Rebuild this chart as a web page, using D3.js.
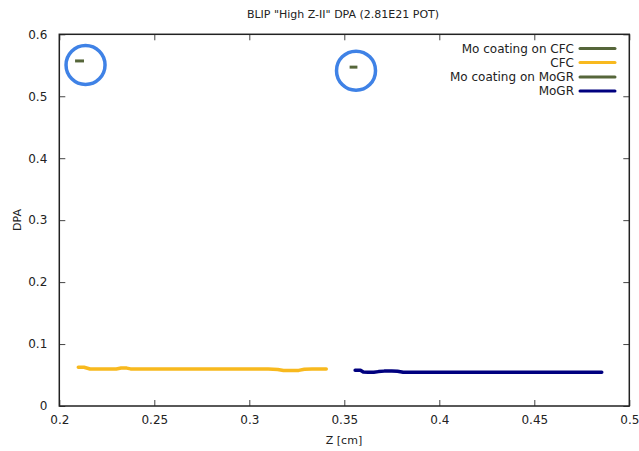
<!DOCTYPE html>
<html>
<head>
<meta charset="utf-8">
<script src="https://cdn.jsdelivr.net/npm/d3@7"></script>
<style>
  html, body { margin: 0; padding: 0; background: #fff; }
  svg { display: block; }
  text { font-family: "DejaVu Sans", sans-serif; fill: #222; }
</style>
</head>
<body>
<svg id="chart" width="639" height="451"></svg>
<script>
// Dose (DPA) along Z for each absorber material
const cfcZ   = [0.210, 0.213, 0.2162, 0.220, 0.225, 0.230, 0.2325, 0.2355, 0.2375, 0.240, 0.245, 0.250, 0.255, 0.260, 0.265, 0.270, 0.275, 0.280, 0.285, 0.290, 0.295, 0.300, 0.305, 0.310, 0.315, 0.318, 0.322, 0.326, 0.329, 0.333, 0.337, 0.3405];
const cfcDPA = [0.0625, 0.0625, 0.0598, 0.0597, 0.0597, 0.0598, 0.0612, 0.0612, 0.0599, 0.0597, 0.0597, 0.0597, 0.0597, 0.0597, 0.0597, 0.0597, 0.0597, 0.0597, 0.0597, 0.0597, 0.0597, 0.0597, 0.0597, 0.0597, 0.0590, 0.0574, 0.0573, 0.0575, 0.0594, 0.0597, 0.0597, 0.0597];

const mogrZ   = [0.3557, 0.3585, 0.3600, 0.3625, 0.3655, 0.3680, 0.3710, 0.3750, 0.3780, 0.3810, 0.3850, 0.390, 0.395, 0.400, 0.405, 0.410, 0.415, 0.420, 0.425, 0.430, 0.435, 0.440, 0.445, 0.450, 0.455, 0.460, 0.465, 0.470, 0.475, 0.480, 0.4855];
const mogrDPA = [0.0578, 0.0577, 0.0548, 0.0543, 0.0544, 0.0555, 0.0563, 0.0564, 0.0562, 0.0546, 0.0544, 0.0543, 0.0543, 0.0543, 0.0543, 0.0543, 0.0543, 0.0543, 0.0543, 0.0543, 0.0543, 0.0543, 0.0543, 0.0543, 0.0543, 0.0543, 0.0543, 0.0543, 0.0543, 0.0543, 0.0543];

const moCfcZ   = [0.2083, 0.2130];
const moCfcDPA = [0.557, 0.557];
const moMogrZ   = [0.3528, 0.3569];
const moMogrDPA = [0.547, 0.547];

const xTicks = [0.2, 0.25, 0.3, 0.35, 0.4, 0.45, 0.5];
const yTicks = [0, 0.1, 0.2, 0.3, 0.4, 0.5, 0.6];

const seriesNames  = ["Mo coating on CFC", "CFC", "Mo coating on MoGR", "MoGR"];
const seriesColors = ["#56663a", "#f8b91e", "#56663a", "#00007f"];

const svg = d3.select("#chart");

const x = d3.scaleLinear().domain([0.2, 0.5]).range([59.3, 629.3]);
const y = d3.scaleLinear().domain([0, 0.6]).range([406, 34.3]);

// Title
svg.append("text")
  .attr("x", 343).attr("y", 18)
  .attr("text-anchor", "middle")
  .style("font-size", "11px")
  .text('BLIP "High Z-II" DPA (2.81E21 POT)');

// Axes: inward ticks on all four sides
const tickLen = 6;
const fmt = d => (d === 0 ? "0" : String(d));

const gx = svg.append("g").attr("transform", `translate(0,${y(0)})`)
  .call(d3.axisBottom(x).tickValues(xTicks).tickSize(-tickLen).tickPadding(9).tickFormat(fmt));
const gxTop = svg.append("g").attr("transform", `translate(0,${y(0.6)})`)
  .call(d3.axisTop(x).tickValues(xTicks).tickSize(-tickLen).tickFormat(""));
const gy = svg.append("g").attr("transform", `translate(${x(0.2)},0)`)
  .call(d3.axisLeft(y).tickValues(yTicks).tickSize(-tickLen).tickPadding(12).tickFormat(fmt));
const gyRight = svg.append("g").attr("transform", `translate(${x(0.5)},0)`)
  .call(d3.axisRight(y).tickValues(yTicks).tickSize(-tickLen).tickFormat(""));

[gx, gxTop, gy, gyRight].forEach(g => {
  g.select(".domain").remove();
  g.selectAll(".tick line").attr("stroke", "#444").attr("stroke-width", 1);
  g.selectAll(".tick text").style("font-size", "12px").style("font-family", "DejaVu Sans, sans-serif").attr("fill", "#222");
});

// Plot frame
svg.append("rect")
  .attr("x", x(0.2)).attr("y", y(0.6))
  .attr("width", x(0.5) - x(0.2)).attr("height", y(0) - y(0.6))
  .attr("fill", "none").attr("stroke", "#222").attr("stroke-width", 1.5);

// Axis titles
svg.append("text")
  .attr("x", 344).attr("y", 444)
  .attr("text-anchor", "middle")
  .style("font-size", "11px")
  .text("Z [cm]");
svg.append("text")
  .attr("transform", "translate(21,220) rotate(-90)")
  .attr("text-anchor", "middle")
  .style("font-size", "11px")
  .text("DPA");

// Data lines
const line = d3.line().x(d => x(d[0])).y(d => y(d[1]));
const series = [
  { z: moCfcZ, v: moCfcDPA, c: seriesColors[0], cap: "butt", w: 3 },
  { z: cfcZ, v: cfcDPA, c: seriesColors[1], cap: "round", w: 3.5 },
  { z: moMogrZ, v: moMogrDPA, c: seriesColors[2], cap: "butt", w: 3 },
  { z: mogrZ, v: mogrDPA, c: seriesColors[3], cap: "round", w: 3.5 }
];
series.forEach(s => {
  svg.append("path")
    .datum(d3.zip(s.z, s.v))
    .attr("d", line)
    .attr("fill", "none")
    .attr("stroke", s.c)
    .attr("stroke-width", s.w)
    .attr("stroke-linecap", s.cap)
    .attr("stroke-linejoin", "round");
});

// Highlight rings around the Mo coating points (offset a little from each mark)
const rings = [
  { z: d3.mean(moCfcZ), v: moCfcDPA[0], dx: 6, dy: 4 },
  { z: d3.mean(moMogrZ), v: moMogrDPA[0], dx: 2.5, dy: 3.5 }
];
svg.selectAll("circle.ring").data(rings).enter().append("circle")
  .attr("class", "ring")
  .attr("cx", d => x(d.z) + d.dx)
  .attr("cy", d => y(d.v) + d.dy)
  .attr("r", 19.5)
  .attr("fill", "none")
  .attr("stroke", "#3f82e6")
  .attr("stroke-width", 3.5);

// Legend
const legend = svg.append("g");
const legendY = [48.5, 62.5, 77, 91];
seriesNames.forEach((name, i) => {
  legend.append("text")
    .attr("x", 574).attr("y", legendY[i] + 4)
    .attr("text-anchor", "end")
    .style("font-size", "12px")
    .text(name);
  legend.append("line")
    .attr("x1", 580).attr("x2", 615)
    .attr("y1", legendY[i]).attr("y2", legendY[i])
    .attr("stroke", seriesColors[i])
    .attr("stroke-width", 3)
    .attr("stroke-linecap", "round");
});
</script>
</body>
</html>
